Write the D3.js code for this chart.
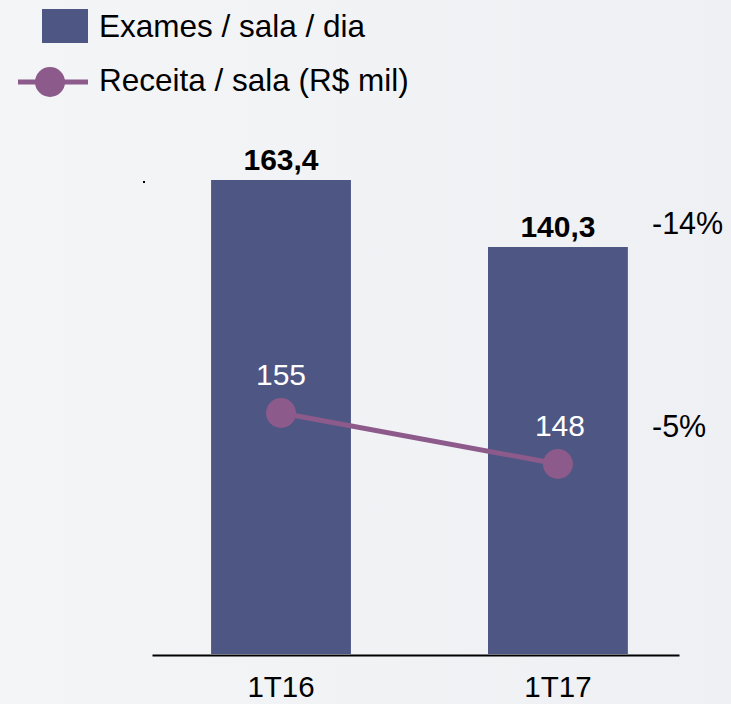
<!DOCTYPE html>
<html><head><meta charset="utf-8">
<script src="https://cdn.jsdelivr.net/npm/d3@7"></script>
<style>
html,body{margin:0;padding:0;background:#f2f3f5;}
svg{display:block;font-family:"Liberation Sans",Arial,sans-serif;}
</style></head><body>
<svg id="chart" width="731" height="704"></svg>
<script>
const categories = ["1T16", "1T17"];
const examsValues = [163.4, 140.3];
const examsLabels = ["163,4", "140,3"];
const revenueValues = [155, 148];
const revenueLabels = ["155", "148"];
const changeLabels = ["-14%", "-5%"];
const legendLabels = ["Exames / sala / dia", "Receita / sala (R$ mil)"];

const barColor = "#4e5683";
const lineColor = "#8c5a8b";

const svg = d3.select("#chart");
const defs = svg.append("defs");
const grad = defs.append("linearGradient").attr("id","bg").attr("x1","0").attr("y1","0").attr("x2","1").attr("y2","0");
grad.append("stop").attr("offset","0").attr("stop-color","#f4f5f7");
grad.append("stop").attr("offset","1").attr("stop-color","#eef0f3");
svg.append("rect").attr("width",731).attr("height",704).attr("fill","url(#bg)");

const x = d3.scaleBand().domain(categories).range([152, 679]).paddingInner(0.495).paddingOuter(0.199).align(0.536);
const y = d3.scaleLinear().domain([0, 163.4]).range([654, 180]);
const y2 = d3.scaleLinear().domain([148, 155]).range([464, 413]);

// bars
svg.append("g").selectAll("rect").data(examsValues).join("rect")
  .attr("x",(d,i)=>x(categories[i])).attr("width",x.bandwidth())
  .attr("y",d=>y(d)).attr("height",d=>y(0)-y(d)).attr("fill",barColor);

// bar value labels
svg.append("g").selectAll("text").data(examsValues).join("text")
  .attr("x",(d,i)=>x(categories[i])+x.bandwidth()/2).attr("y",d=>y(d)-10)
  .attr("text-anchor","middle").attr("font-size",30).attr("font-weight","bold").attr("fill","#000")
  .text((d,i)=>examsLabels[i]);

// axis
const axis = svg.append("g").attr("transform","translate(0,655)")
  .call(d3.axisBottom(x).tickSize(0).tickPadding(0));
axis.select(".domain").attr("stroke","#000").attr("stroke-width",2);
axis.selectAll(".tick text").attr("font-size",29.5).attr("fill","#000")
  .attr("font-family","Liberation Sans, Arial, sans-serif").attr("dy",null).attr("y",42);

// tiny tick mark at the top-left
svg.append("rect").attr("x",143).attr("y",y(163.4)+1).attr("width",2).attr("height",2).attr("fill","#000");

// line
const cx = (d,i)=>x(categories[i])+x.bandwidth()/2;
const line = d3.line().x((d,i)=>cx(d,i)).y(d=>y2(d));
svg.append("path").datum(revenueValues).attr("d",line).attr("fill","none")
  .attr("stroke",lineColor).attr("stroke-width",5);
svg.append("g").selectAll("circle").data(revenueValues).join("circle")
  .attr("cx",cx).attr("cy",d=>y2(d)).attr("r",15).attr("fill",lineColor);
svg.append("g").selectAll("text").data(revenueValues).join("text")
  .attr("x",(d,i)=>cx(d,i)+(i===1?2:0)).attr("y",d=>y2(d)-28)
  .attr("text-anchor","middle").attr("font-size",30).attr("fill","#fff")
  .text((d,i)=>revenueLabels[i]);

// change labels
const changeY = [y(examsValues[1])-13, y2(revenueValues[1])-27];
svg.append("g").selectAll("text").data(changeLabels).join("text")
  .attr("x",652).attr("y",(d,i)=>changeY[i]).attr("font-size",30.5).attr("fill","#000")
  .text(d=>d);

// legend
const lg = svg.append("g");
lg.append("rect").attr("x",42).attr("y",9).attr("width",46).attr("height",34).attr("fill",barColor);
lg.append("line").attr("x1",18).attr("x2",88).attr("y1",82).attr("y2",82).attr("stroke",lineColor).attr("stroke-width",5);
lg.append("circle").attr("cx",50).attr("cy",82).attr("r",15).attr("fill",lineColor);
lg.selectAll("text").data(legendLabels).join("text")
  .attr("x",99).attr("y",(d,i)=>37+i*54).attr("font-size",31.5).attr("fill","#000").text(d=>d);
</script>
</body></html>
